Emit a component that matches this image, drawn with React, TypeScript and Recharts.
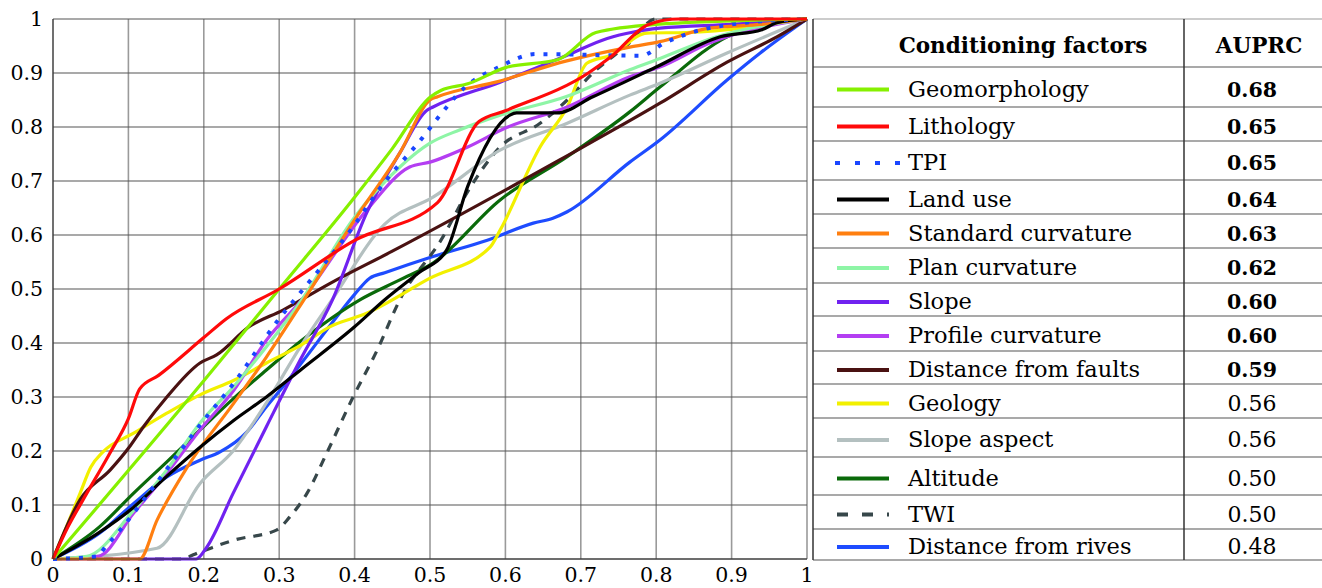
import { CartesianGrid, Line, LineChart, XAxis, YAxis } from 'recharts';

const TICKS = [0, 0.1, 0.2, 0.3, 0.4, 0.5, 0.6, 0.7, 0.8, 0.9, 1];

// recall (x) / precision (y) pairs
const geomorphology = [[0, 0], [0.2, 0.33], [0.3, 0.5], [0.4, 0.67], [0.45, 0.76], [0.5, 0.855], [0.515, 0.868], [0.55, 0.88], [0.6, 0.91], [0.67, 0.925], [0.72, 0.975], [0.8, 0.99], [1, 1]];
const lithology = [[0, 0], [0.02, 0.06], [0.04, 0.11], [0.075, 0.195], [0.1, 0.26], [0.115, 0.315], [0.14, 0.34], [0.2, 0.41], [0.23, 0.445], [0.3, 0.5], [0.4, 0.59], [0.51, 0.66], [0.565, 0.81], [0.6, 0.83], [0.71, 0.9], [0.74, 0.93], [0.79, 0.99], [0.83, 1], [1, 1]];
const tpi = [[0, 0], [0.06, 0.005], [0.066, 0.016], [0.09, 0.055], [0.133, 0.133], [0.195, 0.248], [0.24, 0.326], [0.3, 0.445], [0.335, 0.505], [0.39, 0.6], [0.44, 0.698], [0.49, 0.78], [0.51, 0.816], [0.545, 0.872], [0.59, 0.91], [0.64, 0.935], [0.78, 0.932], [0.81, 0.955], [0.86, 0.98], [0.9, 0.99], [1, 1]];
const landUse = [[0, 0], [0.06, 0.048], [0.107, 0.096], [0.15, 0.152], [0.195, 0.207], [0.24, 0.257], [0.283, 0.3], [0.33, 0.352], [0.4, 0.43], [0.44, 0.48], [0.485, 0.53], [0.522, 0.572], [0.55, 0.69], [0.606, 0.822], [0.615, 0.826], [0.668, 0.826], [0.716, 0.856], [0.8, 0.911], [0.885, 0.967], [0.94, 0.98], [0.96, 0.993], [1, 1]];
const standardCurvature = [[0, 0], [0.115, 0], [0.138, 0.072], [0.178, 0.17], [0.24, 0.289], [0.283, 0.374], [0.33, 0.474], [0.4, 0.628], [0.46, 0.752], [0.5, 0.85], [0.51, 0.856], [0.59, 0.884], [0.68, 0.922], [0.765, 0.948], [0.805, 0.958], [0.87, 0.983], [0.94, 0.99], [1, 1]];
const planCurvature = [[0, 0], [0.045, 0.005], [0.107, 0.09], [0.151, 0.165], [0.195, 0.252], [0.24, 0.32], [0.283, 0.393], [0.33, 0.48], [0.4, 0.633], [0.46, 0.726], [0.5, 0.77], [0.54, 0.795], [0.593, 0.822], [0.68, 0.856], [0.765, 0.906], [0.805, 0.927], [0.88, 0.967], [1, 1]];
const slope = [[0, 0], [0.19, 0], [0.204, 0.022], [0.239, 0.122], [0.283, 0.245], [0.328, 0.369], [0.37, 0.478], [0.416, 0.641], [0.46, 0.752], [0.496, 0.831], [0.504, 0.837], [0.593, 0.883], [0.682, 0.933], [0.735, 0.964], [0.77, 0.976], [0.805, 0.983], [0.9, 0.99], [1, 1]];
const profileCurvature = [[0, 0], [0.06, 0.005], [0.107, 0.085], [0.151, 0.159], [0.195, 0.239], [0.24, 0.313], [0.283, 0.405], [0.33, 0.48], [0.416, 0.646], [0.473, 0.726], [0.5, 0.735], [0.55, 0.763], [0.6, 0.798], [0.682, 0.837], [0.765, 0.893], [0.805, 0.911], [0.87, 0.955], [1, 1]];
const distanceFaults = [[0, 0], [0.036, 0.11], [0.076, 0.165], [0.1, 0.205], [0.12, 0.245], [0.151, 0.3], [0.195, 0.363], [0.217, 0.378], [0.26, 0.43], [0.305, 0.461], [0.367, 0.51], [0.45, 0.57], [0.672, 0.739], [0.805, 0.844], [0.894, 0.92], [0.96, 0.967], [1, 1]];
const geology = [[0, 0], [0.018, 0.06], [0.036, 0.122], [0.05, 0.17], [0.066, 0.198], [0.107, 0.233], [0.151, 0.27], [0.195, 0.304], [0.24, 0.331], [0.283, 0.363], [0.33, 0.397], [0.367, 0.43], [0.416, 0.455], [0.5, 0.52], [0.58, 0.578], [0.593, 0.609], [0.646, 0.763], [0.682, 0.837], [0.708, 0.918], [0.74, 0.933], [0.788, 0.974], [0.84, 0.975], [1, 1]];
const slopeAspect = [[0, 0], [0.138, 0.02], [0.195, 0.14], [0.24, 0.202], [0.283, 0.289], [0.328, 0.393], [0.37, 0.48], [0.44, 0.62], [0.504, 0.67], [0.593, 0.757], [0.682, 0.807], [0.765, 0.859], [0.805, 0.881], [0.894, 0.937], [1, 1]];
const altitude = [[0, 0], [0.062, 0.06], [0.107, 0.122], [0.151, 0.18], [0.195, 0.239], [0.24, 0.298], [0.283, 0.35], [0.33, 0.405], [0.407, 0.48], [0.46, 0.517], [0.504, 0.548], [0.593, 0.665], [0.682, 0.745], [0.765, 0.828], [0.805, 0.874], [0.894, 0.967], [0.94, 0.99], [1, 1]];
const twi = [[0, 0], [0.168, 0], [0.195, 0.013], [0.24, 0.035], [0.297, 0.054], [0.314, 0.078], [0.337, 0.122], [0.363, 0.196], [0.398, 0.3], [0.43, 0.387], [0.46, 0.48], [0.517, 0.596], [0.549, 0.678], [0.593, 0.763], [0.646, 0.807], [0.682, 0.85], [0.716, 0.9], [0.76, 0.95], [0.8, 1], [1, 1]];
const distanceRives = [[0, 0], [0.062, 0.048], [0.107, 0.103], [0.151, 0.152], [0.195, 0.183], [0.221, 0.198], [0.257, 0.235], [0.283, 0.282], [0.305, 0.319], [0.328, 0.36], [0.37, 0.437], [0.4, 0.49], [0.42, 0.52], [0.44, 0.53], [0.504, 0.56], [0.575, 0.59], [0.637, 0.622], [0.663, 0.631], [0.682, 0.643], [0.765, 0.735], [0.805, 0.776], [0.894, 0.887], [0.938, 0.937], [1, 1]];

const names = ['Geomorphology', 'Lithology', 'TPI', 'Land use', 'Standard curvature', 'Plan curvature', 'Slope', 'Profile curvature', 'Distance from faults', 'Geology', 'Slope aspect', 'Altitude', 'TWI', 'Distance from rives'];
const auprc = ['0.68', '0.65', '0.65', '0.64', '0.63', '0.62', '0.60', '0.60', '0.59', '0.56', '0.56', '0.50', '0.50', '0.48'];
const colors = ['#86f000', '#ff0a0a', '#1a46ff', '#000000', '#ff7f10', '#8ef5a6', '#7022f0', '#b43ef2', '#4a1212', '#f2f000', '#b4c0c0', '#0a6a0a', '#37474a', '#1e4cff'];
const series = [geomorphology, lithology, tpi, landUse, standardCurvature, planCurvature, slope, profileCurvature, distanceFaults, geology, slopeAspect, altitude, twi, distanceRives];

const dashes: Record<string, string | undefined> = { TPI: '4 9', TWI: '9 8' };
const legendDashes: Record<string, string | undefined> = { TPI: '5 15', TWI: '11 14' };

// table row borders (px)
const rowEdges = [19, 67, 107, 141, 180, 214, 248, 283, 316, 351, 384, 418, 457, 495, 529, 560];

// only serif face that resolves in the sandbox
const FONT = 'DejaVu Serif';

function FactorTable() {
  const left = 813;
  const divider = 1184;
  return (
    <svg width={1322} height={588} style={{ position: 'absolute', left: 0, top: 0, pointerEvents: 'none' }}>
      {rowEdges.map((y, i) => (
        <line key={'h' + i} x1={left} x2={1322} y1={y} y2={y} stroke={i === 0 ? '#999' : '#555'} strokeWidth={1.2} />
      ))}
      <line x1={left} x2={left} y1={19} y2={560} stroke="#333" strokeWidth={1.5} />
      <line x1={divider} x2={divider} y1={19} y2={560} stroke="#333" strokeWidth={1.5} />
      <text x={1023} y={53} textAnchor="middle" fontFamily={FONT} fontWeight="bold" fontSize={21.5}>Conditioning factors</text>
      <text x={1259} y={53} textAnchor="middle" fontFamily={FONT} fontWeight="bold" fontSize={21.5}>AUPRC</text>
      {names.map((name, i) => {
        const mid = (rowEdges[i + 1] + rowEdges[i + 2]) / 2;
        const sw = name === 'TPI' ? [835, 900] : [837, 889];
        return (
          <g key={name}>
            <line x1={sw[0]} x2={sw[1]} y1={mid + 2.5} y2={mid + 2.5} stroke={colors[i]} strokeWidth={4} strokeDasharray={legendDashes[name]} />
            <text x={908} y={mid + 9.5} fontFamily={FONT} fontSize={22.5}>{name}</text>
            <text x={1252} y={mid + 9.5} textAnchor="middle" fontFamily={FONT} fontSize={i < 9 ? 20.5 : 22} fontWeight={i < 9 ? 'bold' : 'normal'}>{auprc[i]}</text>
          </g>
        );
      })}
    </svg>
  );
}

export default function App() {
  const order = [13, 12, 11, 10, 9, 8, 7, 6, 5, 4, 3, 2, 0, 1];
  const tick = { fill: '#000', fontSize: 20.5, fontFamily: FONT };
  return (
    <div style={{ position: 'absolute', left: 0, top: 0, width: 1322, height: 588, background: '#fff' }}>
      <LineChart width={1322} height={588} margin={{ top: 19, right: 515, bottom: 0, left: 0 }}>
        <CartesianGrid horizontal={false} stroke="#9a9a9a" strokeWidth={1.6} />
        <CartesianGrid vertical={false} stroke="#555" strokeWidth={1.1} />
        <XAxis type="number" dataKey="x" domain={[0, 1]} ticks={TICKS} interval={0} height={29} tickSize={0} tickMargin={8}
          axisLine={{ stroke: '#333' }} tick={tick} />
        <YAxis type="number" domain={[0, 1]} ticks={TICKS} interval={0} width={53} tickSize={0} tickMargin={10}
          axisLine={{ stroke: '#333' }} tick={tick} />
        {order.map((i) => (
          <Line key={names[i]} data={series[i].map(([x, y]) => ({ x, y }))} dataKey="y" type="monotone"
            stroke={colors[i]} strokeWidth={i === 2 ? 4 : 3.2} strokeDasharray={dashes[names[i]]}
            dot={false} activeDot={false} isAnimationActive={false} />
        ))}
      </LineChart>
      <FactorTable />
    </div>
  );
}
